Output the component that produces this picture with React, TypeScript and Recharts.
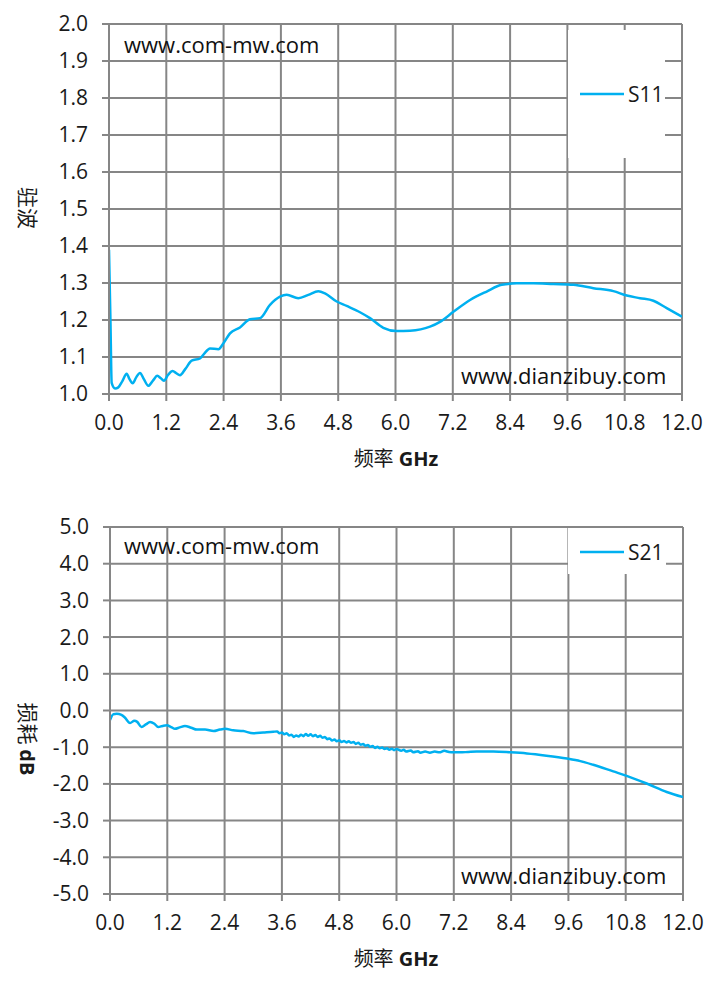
import React from 'react';
import { LineChart, Line, XAxis, YAxis, CartesianGrid, Legend } from 'recharts';

const freqTicks = [0, 1.2, 2.4, 3.6, 4.8, 6.0, 7.2, 8.4, 9.6, 10.8, 12.0];
const vswrTicks = [1.0, 1.1, 1.2, 1.3, 1.4, 1.5, 1.6, 1.7, 1.8, 1.9, 2.0];
const lossTicks = [-5, -4, -3, -2, -1, 0, 1, 2, 3, 4, 5];

const s11Freq = [
  0.0, 0.03, 0.056, 0.126, 0.195, 0.28, 0.37, 0.43, 0.496, 0.57, 0.649, 0.73, 0.824, 0.92, 1.012,
  1.08, 1.15, 1.24, 1.333, 1.41, 1.487, 1.6, 1.731, 1.906, 2.0, 2.115, 2.29, 2.4, 2.534, 2.743,
  2.953, 3.162, 3.372, 3.581, 3.721, 3.965, 4.175, 4.384, 4.524, 4.768, 4.977, 5.256, 5.466,
  5.745, 6.025, 6.304, 6.723, 6.932, 7.212, 7.561, 7.91, 8.224, 8.538, 8.887, 9.306, 9.725,
  10.144, 10.563, 10.842, 11.121, 11.401, 11.68, 12.0,
];
const s11Vals = [
  1.39, 1.2, 1.03, 1.015, 1.018, 1.035, 1.055, 1.04, 1.029, 1.045, 1.057, 1.04, 1.022, 1.036, 1.049,
  1.043, 1.036, 1.052, 1.062, 1.056, 1.051, 1.068, 1.09, 1.096, 1.11, 1.123, 1.121, 1.138, 1.164, 1.18,
  1.202, 1.205, 1.241, 1.263, 1.268, 1.259, 1.268, 1.278, 1.272, 1.25, 1.238, 1.221, 1.205,
  1.179, 1.17, 1.171, 1.182, 1.195, 1.222, 1.254, 1.277, 1.295, 1.299, 1.299, 1.297, 1.295,
  1.286, 1.278, 1.266, 1.259, 1.252, 1.232, 1.209,
];

const s21Freq = [
  0.0, 0.07, 0.14, 0.24, 0.31, 0.42, 0.51, 0.57, 0.66, 0.75, 0.84, 0.93, 1.01, 1.1, 1.19, 1.28,
  1.36, 1.46, 1.57, 1.7, 1.82, 1.99, 2.17, 2.3, 2.41, 2.58, 2.79, 3.0, 3.21, 3.42,
  3.5, 3.55, 3.6, 3.65, 3.7, 3.75, 3.8, 3.85, 3.9, 3.95, 4.0, 4.05, 4.1, 4.15, 4.2, 4.25, 4.3,
  4.35, 4.4, 4.45, 4.5, 4.55, 4.6, 4.65, 4.7, 4.75, 4.8, 4.85, 4.9, 4.95, 5.0, 5.05, 5.1, 5.15,
  5.2, 5.25, 5.3, 5.35, 5.4, 5.45, 5.5, 5.55, 5.6, 5.65, 5.7, 5.75, 5.8, 5.85, 5.9, 5.95, 6.0,
  6.1, 6.15, 6.2, 6.3, 6.35, 6.45, 6.5, 6.6, 6.7, 6.8, 6.9, 7.0, 7.1, 7.2, 7.33, 7.5, 7.68,
  8.03, 8.38, 8.73, 9.14, 9.57, 9.85, 10.12, 10.54, 10.82, 11.24, 11.66, 12.0,
];
const s21Vals = [
  -0.26, -0.1, -0.09, -0.12, -0.19, -0.34, -0.28, -0.31, -0.45, -0.38, -0.31, -0.36, -0.45, -0.42, -0.4, -0.45,
  -0.5, -0.46, -0.42, -0.47, -0.52, -0.52, -0.56, -0.52, -0.5, -0.54, -0.56, -0.62, -0.6, -0.58,
  -0.57, -0.62, -0.6, -0.65, -0.62, -0.68, -0.66, -0.72, -0.68, -0.71, -0.66, -0.7, -0.64, -0.69, -0.65, -0.7, -0.67,
  -0.72, -0.69, -0.74, -0.72, -0.78, -0.76, -0.82, -0.79, -0.84, -0.81, -0.86, -0.83, -0.87, -0.84, -0.88, -0.86, -0.91,
  -0.88, -0.93, -0.91, -0.96, -0.94, -0.99, -0.97, -1.02, -0.99, -1.03, -1.01, -1.05, -1.03, -1.07, -1.04, -1.08, -1.05,
  -1.1, -1.07, -1.12, -1.09, -1.14, -1.11, -1.15, -1.12, -1.15, -1.12, -1.14, -1.1, -1.13, -1.14, -1.14, -1.13, -1.12,
  -1.12, -1.14, -1.17, -1.23, -1.31, -1.38, -1.48, -1.66, -1.78, -1.99, -2.22, -2.36,
];

const s11Data = s11Freq.map((f, i) => ({ f, S11: s11Vals[i] }));
const s21Data = s21Freq.map((f, i) => ({ f, S21: s21Vals[i] }));

const GRID = '#868686';
const LINE = '#00B0F0';
const FONT = "'Open Sans', sans-serif";
const CJK = "'Noto Sans CJK SC', sans-serif";

const tickStyle = { fill: '#1a1a1a', fontSize: 21, fontFamily: FONT };

const makeLegend = (padTop: number) => (props: any) => {
  const { payload } = props;
  return (
    <div style={{ display: 'flex', flexDirection: 'column', justifyContent: 'center', height: '100%', paddingTop: padTop, boxSizing: 'border-box' }}>
      {(payload || []).map((p: any) => (
        <div key={p.value} style={{ display: 'flex', alignItems: 'center', paddingLeft: 12 }}>
          <svg width={44} height={6} style={{ display: 'block' }}>
            <line x1={0} y1={3} x2={44} y2={3} stroke={p.color} strokeWidth={2.5} />
          </svg>
          <span style={{ marginLeft: 4, fontFamily: FONT, fontSize: 21, color: '#1a1a1a', lineHeight: '24px' }}>{p.value}</span>
        </div>
      ))}
    </div>
  );
};

const fmt = (v: number) => v.toFixed(1);

function AxisTitleX({ top }: { top: number }) {
  return (
    <div style={{ position: 'absolute', left: 296, width: 200, top: top - 13, height: 26, textAlign: 'center', lineHeight: '26px', whiteSpace: 'nowrap', color: '#1a1a1a' }}>
      <span style={{ fontFamily: CJK, fontSize: 20 }}>频率</span>
      <span style={{ fontFamily: FONT, fontSize: 20, fontWeight: 'bold' }}> GHz</span>
    </div>
  );
}

function AxisTitleY({ cy, cjk, latin }: { cy: number; cjk: string; latin?: string }) {
  return (
    <div style={{ position: 'absolute', left: 29 - 60, top: cy - 13, width: 120, height: 26, textAlign: 'center', lineHeight: '26px', whiteSpace: 'nowrap', transform: 'rotate(90deg)', color: '#1a1a1a' }}>
      <span style={{ fontFamily: CJK, fontSize: 21 }}>{cjk}</span>
      {latin ? <span style={{ fontFamily: FONT, fontSize: 20, fontWeight: 'bold' }}>{latin}</span> : null}
    </div>
  );
}

function Watermark({ left, cy, text }: { left: number; cy: number; text: string }) {
  return (
    <div style={{ position: 'absolute', left, top: cy - 15, height: 30, lineHeight: '30px', fontFamily: FONT, fontSize: 22, color: '#111', whiteSpace: 'nowrap' }}>
      {text}
    </div>
  );
}

export default function App() {
  return (
    <div style={{ position: 'absolute', left: 0, top: 0, width: 720, height: 985, background: '#fff', overflow: 'hidden' }}>
      <div style={{ position: 'absolute', left: 0, top: 0, width: 720, height: 490 }}>
        <LineChart width={720} height={490} data={s11Data} margin={{ top: 24, right: 38, bottom: 36, left: 0 }}>
          <CartesianGrid stroke={GRID} strokeWidth={2} />
          <XAxis
            dataKey="f" type="number" domain={[0, 12]} ticks={freqTicks} interval={0} tickFormatter={fmt}
            height={60} tickSize={7} tickMargin={14}
            axisLine={{ stroke: GRID, strokeWidth: 2 }} tickLine={{ stroke: GRID, strokeWidth: 2 }}
            tick={tickStyle} allowDataOverflow
          />
          <YAxis
            type="number" domain={[1, 2]} ticks={vswrTicks} interval={0} tickFormatter={fmt}
            width={109} tickSize={7} tickMargin={14}
            axisLine={{ stroke: GRID, strokeWidth: 2 }} tickLine={{ stroke: GRID, strokeWidth: 2 }}
            tick={tickStyle} allowDataOverflow
          />
          <Legend
            layout="vertical" align="center" verticalAlign="middle" content={makeLegend(0)}
            wrapperStyle={{ position: 'absolute', left: 568, top: 30, width: 97, height: 128, background: '#fff' }}
          />
          <Line dataKey="S11" name="S11" type="monotone" stroke={LINE} strokeWidth={2.5} dot={false} isAnimationActive={false} />
        </LineChart>
        <Watermark left={124} cy={44} text="www.com-mw.com" />
        <Watermark left={461} cy={375} text="www.dianzibuy.com" />
        <AxisTitleX top={458} />
        <AxisTitleY cy={208} cjk="驻波" />
      </div>
      <div style={{ position: 'absolute', left: 0, top: 500, width: 720, height: 485 }}>
        <LineChart width={720} height={485} data={s21Data} margin={{ top: 27, right: 37, bottom: 31, left: 0 }}>
          <CartesianGrid stroke={GRID} strokeWidth={2} />
          <XAxis
            dataKey="f" type="number" domain={[0, 12]} ticks={freqTicks} interval={0} tickFormatter={fmt}
            height={60} tickSize={7} tickMargin={14}
            axisLine={{ stroke: GRID, strokeWidth: 2 }} tickLine={{ stroke: GRID, strokeWidth: 2 }}
            tick={tickStyle} allowDataOverflow
          />
          <YAxis
            type="number" domain={[-5, 5]} ticks={lossTicks} interval={0} tickFormatter={fmt}
            width={110} tickSize={7} tickMargin={14}
            axisLine={{ stroke: GRID, strokeWidth: 2 }} tickLine={{ stroke: GRID, strokeWidth: 2 }}
            tick={tickStyle} allowDataOverflow
          />
          <Legend
            layout="vertical" align="center" verticalAlign="middle" content={makeLegend(2)}
            wrapperStyle={{ position: 'absolute', left: 568, top: 28, width: 98, height: 46, background: '#fff' }}
          />
          <Line dataKey="S21" name="S21" type="monotone" stroke={LINE} strokeWidth={2.5} dot={false} isAnimationActive={false} />
        </LineChart>
        <Watermark left={124} cy={45} text="www.com-mw.com" />
        <Watermark left={461} cy={375} text="www.dianzibuy.com" />
        <AxisTitleX top={458} />
        <AxisTitleY cy={239} cjk="损耗 " latin="dB" />
      </div>
    </div>
  );
}
